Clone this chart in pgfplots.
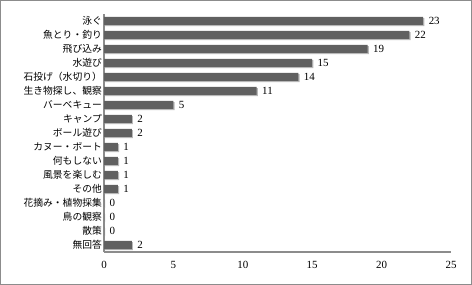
\documentclass[border=0pt]{standalone}
\usepackage{fontspec}
\setmainfont{Liberation Serif}
\newfontfamily\cjk{Noto Sans CJK JP}
\usepackage{pgfplots}
\pgfplotsset{compat=1.18}
\definecolor{barc}{HTML}{606060}
\definecolor{shad}{HTML}{B8B8B8}
\definecolor{axc}{HTML}{8C8C8C}
\begin{document}
\begin{tikzpicture}
\draw[draw=axc, line width=0.8bp] (0.4bp,0.4bp) rectangle (471.6bp,284.6bp);
\begin{axis}[
  at={(104bp,33bp)}, anchor=south west,
  scale only axis, width=347bp, height=238bp,
  xmin=0, xmax=25, ymin=-0.5, ymax=16.5,
  xtick={0,5,...,25},
  ytick={0,...,16},
  yticklabels={無回答,散策,鳥の観察,花摘み・植物採集,その他,風景を楽しむ,何もしない,カヌー・ボート,ボール遊び,キャンプ,バーベキュー,生き物探し、観察,石投げ（水切り）,水遊び,飛び込み,魚とり・釣り,泳ぐ},
  yticklabel style={font=\cjk\fontsize{9.8}{11}\selectfont, inner sep=1bp, xshift=-1bp},
  xticklabel style={font=\fontsize{11}{12}\selectfont, yshift=-6bp},
  /pgf/number format/assume math mode=true,
  axis x line*=bottom, axis y line*=left,
  axis line style={draw=axc, line width=1.3bp, -},
  major tick length=0pt,
  xbar, bar width=8bp,
  nodes near coords,
  every node near coord/.append style={font=\fontsize{11}{12}\selectfont, black, xshift=2bp},
  clip=false,
]
\addplot[fill=barc, draw=none, preaction={fill=shad, transform canvas={shift={(1.2bp,-1.2bp)}}}] coordinates {
(2,0) (0,1) (0,2) (0,3) (1,4) (1,5) (1,6) (1,7) (2,8) (2,9) (5,10) (11,11) (14,12) (15,13) (19,14) (22,15) (23,16)
};
\end{axis}
\end{tikzpicture}
\end{document}
